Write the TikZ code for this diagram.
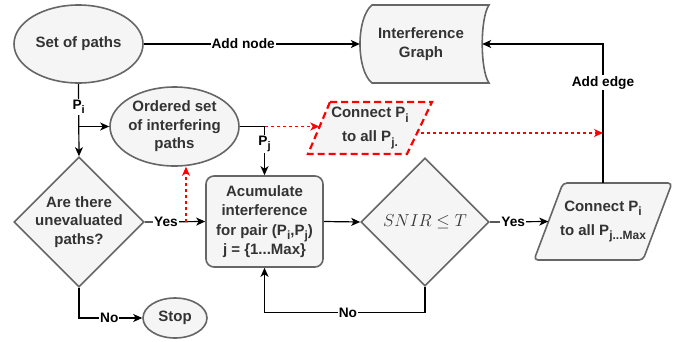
\documentclass[tikz,border=0pt]{standalone}
\usepackage{fontspec}
\setmainfont{Liberation Sans}
\usetikzlibrary{shapes.geometric,arrows.meta}
\definecolor{shapefill}{HTML}{F5F5F5}
\definecolor{shapeline}{HTML}{666666}
\definecolor{shapeink}{HTML}{333333}
\definecolor{hintred}{HTML}{FF0000}
% lowered subscript at a fixed smaller size
\newcommand{\lowsub}[2][12]{\raisebox{-0.3em}{\fontsize{#1}{#1}\selectfont #2}}
\tikzset{
  shapebox/.style={draw=shapeline, fill=shapefill, line width=1.6pt, inner sep=0pt},
  ntext/.style={text=shapeink, font=\fontsize{15}{18.5}\selectfont\bfseries, align=center, inner sep=0pt},
  lbl/.style={fill=white, text=black, font=\fontsize{13.7}{16}\selectfont\bfseries, inner sep=1pt},
  conn/.style={draw=black, line width=1.2pt},
  tip/.style={-{Stealth[length=9pt,width=8pt,inset=2.5pt]}},
  arr/.style={conn, tip},
  hint/.style={draw=hintred, line width=1.1pt, dash pattern=on 3pt off 3pt, tip},
  hintbox/.style={draw=hintred, fill=shapefill, line width=2.2pt, dash pattern=on 7pt off 4pt},
}
\begin{document}
\begin{tikzpicture}[x=1pt, y=-1pt]
\useasboundingbox (0,0) rectangle (683,341);

% interference graph store (stored-data outline)
\path[shapebox] (372,5) -- (489,5) .. controls (480,18) and (480,70) .. (489,83)
  -- (372,83) .. controls (356,70) and (356,18) .. (372,5) -- cycle;
\node[ntext, minimum width=122, minimum height=78] (ig) at (421,44) {Interference\\Graph};

% shapes
\node[shapebox, ellipse, minimum width=129, minimum height=78] (sop) at (78.5,44) {};
\node[ntext] (sop-t) at (sop) {Set of paths};

\node[shapebox, ellipse, minimum width=129, minimum height=79] (oset) at (174.5,126.5) {};
\node[ntext] (oset-t) at (oset) {Ordered set\\of interfering\\paths};

\node[shapebox, diamond, aspect=1, minimum width=130, minimum height=130] (unev) at (79,222) {};
\node[ntext] (unev-t) at (unev) {Are there\\unevaluated\\paths?};

\node[shapebox, rounded corners=8pt, minimum width=117, minimum height=91] (acc) at (264.5,221.5) {};
\node[ntext, font=\fontsize{15}{19.3}\selectfont\bfseries] (acc-t) at (acc)
  {Acumulate\\interference\\for pair (P\lowsub{i},P\lowsub{j})\\j = \{1...Max\}};

\node[shapebox, diamond, aspect=1, minimum width=128, minimum height=128] (snir) at (425,222) {};
\node[ntext, font=\fontsize{18.5}{20}\selectfont] (snir-t) at (snir) {$SNIR\leq T$};

% output parallelogram
\path[shapebox, rounded corners=4pt] (563,183) -- (672,183) -- (643,260) -- (534,260) -- cycle;
\node[ntext, font=\fontsize{15}{24}\selectfont\bfseries, minimum width=109, minimum height=77]
  (conn) at (603,221.5) {Connect P\lowsub{i}\\to all P\lowsub{j...Max}};

\node[shapebox, ellipse, minimum width=64, minimum height=40] (stop) at (175,318) {};
\node[ntext] (stop-t) at (stop) {Stop};

% dashed variant of the output step
\path[hintbox] (330,102) -- (432,102) -- (407,154) -- (308,154) -- cycle;
\node[ntext, font=\fontsize{15}{24}\selectfont\bfseries, minimum width=101, minimum height=52]
  (redpar) at (370,128) {Connect P\lowsub{i}\\to all P\lowsub{j.}};

% connectors
\draw[arr] (sop) -- node[lbl, pos=0.46] {Add node} (ig);
\draw[arr] (sop.south) -- node[lbl, pos=0.32] {P\lowsub[11]{i}} (unev.north);
\coordinate (fork) at (sop.south |- oset.west);
\draw[arr] (fork) -- (oset.west);
\draw[arr] (oset.east) -| node[lbl, pos=0.68] {P\lowsub[11]{j}} (acc.north);
\coordinate (pjfork) at (acc.north |- oset.east);
\draw[hint] (pjfork) -- (pjfork -| redpar.west);

\draw[arr] (unev.east) -- node[lbl, pos=0.35] {Yes} (acc.west);
\coordinate (yesfork) at (186,222);
\draw[hint] (yesfork) -- (yesfork |- oset.south);

\draw[arr] (acc.east) -- (snir.west);
\draw[arr] (snir.east) -- node[lbl, pos=0.4] {Yes} (conn.west);
\draw[arr] (snir.south) -- ++(0,26) -| node[lbl, pos=0.24] {No} (acc.south);
\draw[arr] (unev.south) |- node[lbl, pos=0.74] {No} (stop.west);
\draw[arr] (conn.north) |- node[lbl, pos=0.36] {Add edge} (ig.east);

\coordinate (edgehit) at ([yshift=-5pt]conn.north |- redpar.east);
\draw[hint] (redpar.east |- edgehit) -- (edgehit);
\end{tikzpicture}
\end{document}
